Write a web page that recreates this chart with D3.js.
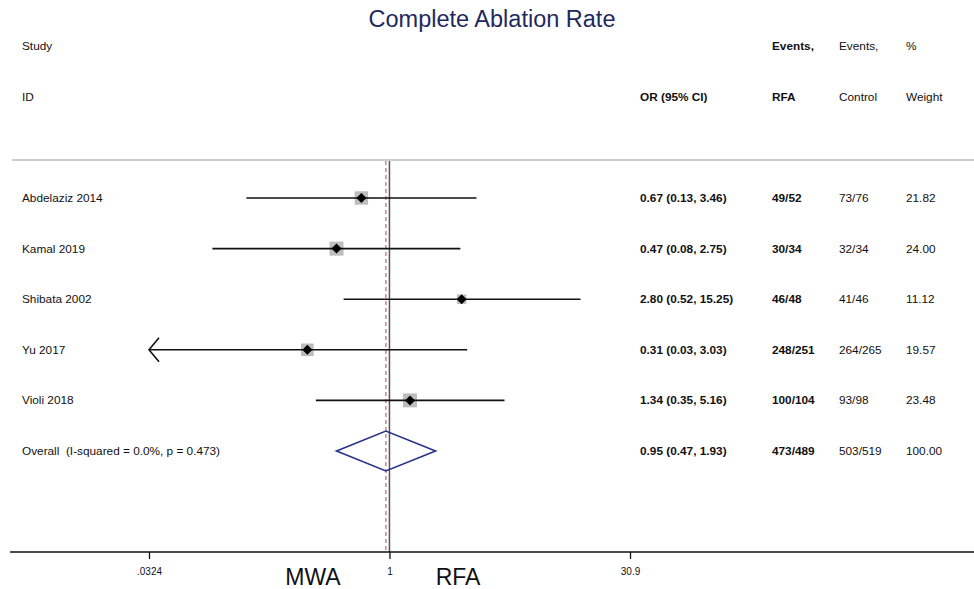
<!DOCTYPE html>
<html>
<head>
<meta charset="utf-8">
<script src="https://cdn.jsdelivr.net/npm/d3@7/dist/d3.min.js"></script>
<style>
  body { margin: 0; background: #fff; }
  text { font-family: "Liberation Sans", Arial, sans-serif; }
</style>
</head>
<body>
<svg id="chart" width="974" height="589"></svg>
<script>
// ---- data ----
const studies = ["Abdelaziz 2014", "Kamal 2019", "Shibata 2002", "Yu 2017", "Violi 2018"];
const orEst   = [0.67, 0.47, 2.80, 0.31, 1.34];
const ciLow   = [0.13, 0.08, 0.52, 0.03, 0.35];
const ciHigh  = [3.46, 2.75, 15.25, 3.03, 5.16];
const eventsRFA     = ["49/52", "30/34", "46/48", "248/251", "100/104"];
const eventsControl = ["73/76", "32/34", "41/46", "264/265", "93/98"];
const weights = [21.82, 24.00, 11.12, 19.57, 23.48];
const overall = { label: "Overall\u00a0\u00a0(I-squared = 0.0%, p = 0.473)", est: 0.95, lo: 0.47, hi: 1.93,
                  rfa: "473/489", control: "503/519", weight: "100.00" };
const tickValues = [0.0324, 1, 30.9];
const tickLabels = [".0324", "1", "30.9"];

const svg = d3.select("#chart");
const x = d3.scaleLog().domain([0.0324, 30.9]).range([149, 630]);
const rowNames = studies.concat(["overall"]);
const y = d3.scalePoint().domain(rowNames).range([198, 451]);

const fmt = d3.format(".2f");
const fs = 11.8;

// title
svg.append("text").attr("x", 492).attr("y", 27).attr("text-anchor", "middle")
  .attr("font-size", 23.5).attr("fill", "#1f2a5c").text("Complete Ablation Rate");

// headers
const hdr = svg.append("g").attr("font-size", fs).attr("fill", "#111");
hdr.append("text").attr("x", 22).attr("y", 50).text("Study");
hdr.append("text").attr("x", 22).attr("y", 101).text("ID");
hdr.append("text").attr("x", 640).attr("y", 101).attr("font-weight", "bold").text("OR (95% CI)");
hdr.append("text").attr("x", 772).attr("y", 50).attr("font-weight", "bold").text("Events,");
hdr.append("text").attr("x", 772).attr("y", 101).attr("font-weight", "bold").text("RFA");
hdr.append("text").attr("x", 839).attr("y", 50).text("Events,");
hdr.append("text").attr("x", 839).attr("y", 101).text("Control");
hdr.append("text").attr("x", 906).attr("y", 50).text("%");
hdr.append("text").attr("x", 906).attr("y", 101).text("Weight");

// separator
svg.append("line").attr("x1", 12).attr("x2", 974).attr("y1", 160).attr("y2", 160)
  .attr("stroke", "#bbb").attr("stroke-width", 1.5);

// reference lines
svg.append("line").attr("x1", x(1)).attr("x2", x(1)).attr("y1", 161).attr("y2", 552)
  .attr("stroke", "#555").attr("stroke-width", 1.5);
svg.append("line").attr("x1", x(overall.est)).attr("x2", x(overall.est)).attr("y1", 161).attr("y2", 552)
  .attr("stroke", "#c9707a").attr("stroke-width", 1.3).attr("stroke-dasharray", "4,3");

// study rows
const rows = studies.map((s, i) => ({ name: s, est: orEst[i], lo: ciLow[i], hi: ciHigh[i],
  rfa: eventsRFA[i], control: eventsControl[i], w: weights[i] }));
const minX = x.domain()[0], maxX = x.domain()[1];

const g = svg.append("g");
rows.forEach(r => {
  const yy = y(r.name);
  const lo = Math.max(r.lo, minX), hi = Math.min(r.hi, maxX);
  const sz = 2.86 * Math.sqrt(r.w);
  g.append("rect").attr("x", x(r.est) - sz / 2).attr("y", yy - sz / 2)
    .attr("width", sz).attr("height", sz).attr("fill", "#bdbdbd");
  g.append("line").attr("x1", x(lo)).attr("x2", x(hi)).attr("y1", yy).attr("y2", yy)
    .attr("stroke", "#111").attr("stroke-width", 1.6);
  if (r.lo < minX) {
    const ax = x(minX);
    g.append("path").attr("d", `M${ax + 10},${yy - 12} L${ax},${yy} L${ax + 10},${yy + 12}`)
      .attr("fill", "none").attr("stroke", "#111").attr("stroke-width", 1.6);
  }
  const d = 5;
  const px = x(r.est);
  g.append("path").attr("d", `M${px - d},${yy} L${px},${yy - d} L${px + d},${yy} L${px},${yy + d} Z`)
    .attr("fill", "#000");
  g.append("text").attr("x", 22).attr("y", yy + 4).attr("font-size", fs).attr("fill", "#111").text(r.name);
  g.append("text").attr("x", 640).attr("y", yy + 4).attr("font-size", fs).attr("font-weight", "bold")
    .attr("fill", "#111").text(`${fmt(r.est)} (${fmt(r.lo)}, ${fmt(r.hi)})`);
  g.append("text").attr("x", 772).attr("y", yy + 4).attr("font-size", fs).attr("font-weight", "bold")
    .attr("fill", "#111").text(r.rfa);
  g.append("text").attr("x", 839).attr("y", yy + 4).attr("font-size", fs).attr("fill", "#111").text(r.control);
  g.append("text").attr("x", 906).attr("y", yy + 4).attr("font-size", fs).attr("fill", "#111").text(fmt(r.w));
});

// overall
const oy = y("overall");
svg.append("path")
  .attr("d", `M${x(overall.lo)},${oy} L${x(overall.est)},${oy - 20} L${x(overall.hi)},${oy} L${x(overall.est)},${oy + 20} Z`)
  .attr("fill", "none").attr("stroke", "#27308a").attr("stroke-width", 1.6);
svg.append("text").attr("x", 22).attr("y", oy + 4).attr("font-size", fs).attr("fill", "#111").text(overall.label);
svg.append("text").attr("x", 640).attr("y", oy + 4).attr("font-size", fs).attr("font-weight", "bold")
  .attr("fill", "#111").text(`${fmt(overall.est)} (${fmt(overall.lo)}, ${fmt(overall.hi)})`);
svg.append("text").attr("x", 772).attr("y", oy + 4).attr("font-size", fs).attr("font-weight", "bold")
  .attr("fill", "#111").text(overall.rfa);
svg.append("text").attr("x", 839).attr("y", oy + 4).attr("font-size", fs).attr("fill", "#111").text(overall.control);
svg.append("text").attr("x", 906).attr("y", oy + 4).attr("font-size", fs).attr("fill", "#111").text(overall.weight);

// x axis
const axisG = svg.append("g").attr("transform", "translate(0,552)");
axisG.append("line").attr("x1", 10).attr("x2", 974).attr("y1", 0).attr("y2", 0)
  .attr("stroke", "#111").attr("stroke-width", 1.3);
const axis = d3.axisBottom(x).tickValues(tickValues)
  .tickFormat((d, i) => tickLabels[i]).tickSize(7).tickSizeOuter(0).tickPadding(9);
axisG.append("g").call(axis).call(a => a.select(".domain").remove())
  .call(a => a.selectAll("line").attr("stroke", "#111").attr("stroke-width", 1.3))
  .call(a => a.selectAll("text").attr("font-size", 10).attr("fill", "#111")
    .attr("font-family", "'Liberation Sans', Arial, sans-serif"));

// side labels
svg.append("text").attr("x", 313).attr("y", 585).attr("text-anchor", "middle")
  .attr("font-size", 23).attr("fill", "#111").text("MWA");
svg.append("text").attr("x", 458).attr("y", 585).attr("text-anchor", "middle")
  .attr("font-size", 23).attr("fill", "#111").text("RFA");
</script>
</body>
</html>
